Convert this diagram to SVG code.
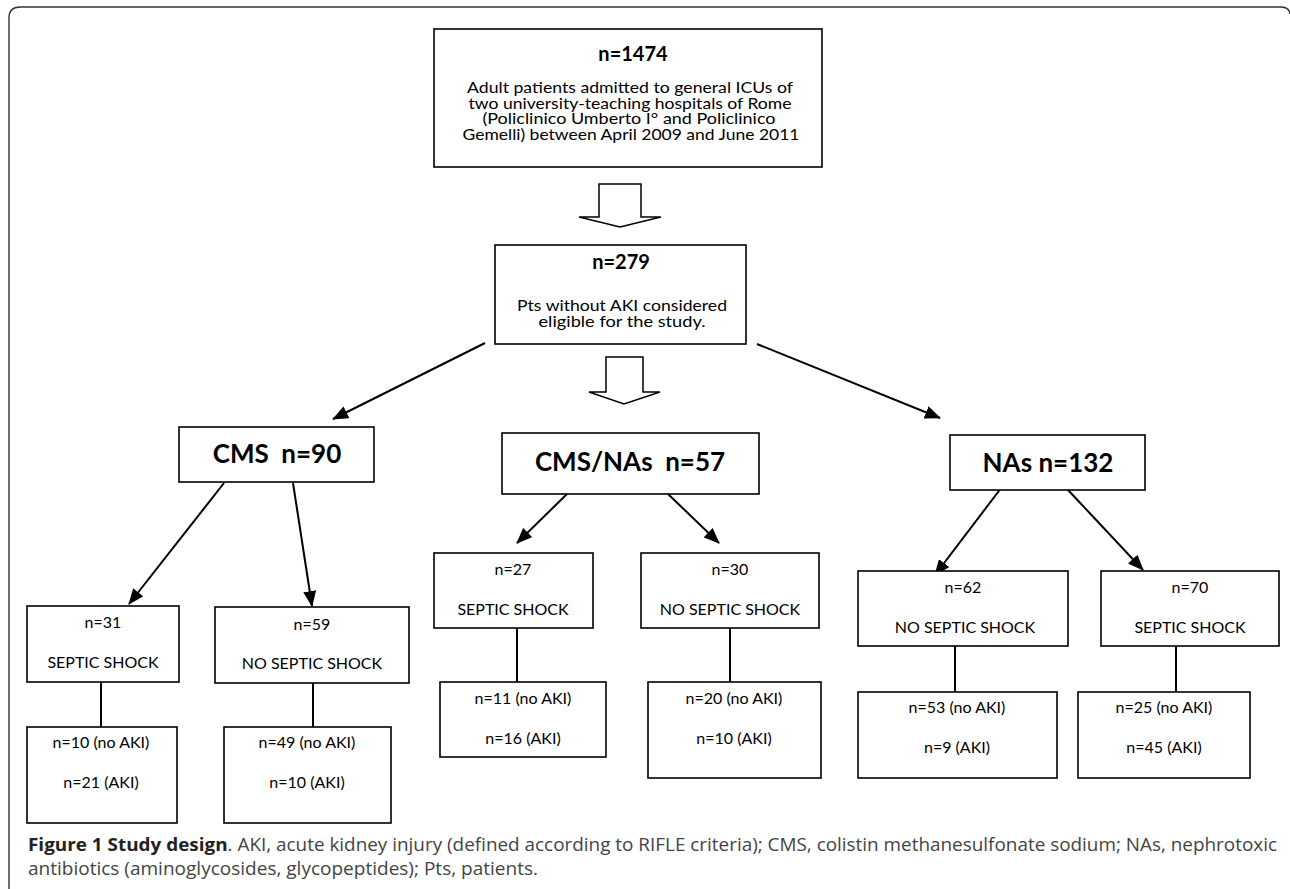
<svg xmlns="http://www.w3.org/2000/svg" width="1290" height="889" viewBox="0 0 1290 889">
<style>
.box{fill:#fff;stroke:#000;stroke-width:1.6}
.t{font-family:Lato,"Liberation Sans",sans-serif;font-size:16px;fill:#000;text-anchor:middle}
.tb{font-family:Lato,"Liberation Sans",sans-serif;font-size:20px;font-weight:bold;fill:#000;text-anchor:middle}
.big{font-family:Lato,"Liberation Sans",sans-serif;font-size:26px;font-weight:bold;fill:#000;text-anchor:middle}
.body{font-family:Lato,"Liberation Sans",sans-serif;font-size:16px;fill:#000;text-anchor:middle}
.ln{stroke:#000;stroke-width:2;fill:none}
.arr{stroke:#000;stroke-width:2;fill:none;marker-end:url(#ah)}
.hollow{fill:#fff;stroke:#000;stroke-width:1.5;stroke-linejoin:miter}
.cap{font-family:"Open Sans","Liberation Sans",sans-serif;font-size:17.5px;fill:#444}
</style>
<defs>
<marker id="ah" viewBox="0 0 16 13" refX="15" refY="6.5" markerWidth="16" markerHeight="13" orient="auto" markerUnits="userSpaceOnUse">
<path d="M0,0 L16,6.5 L0,13 z" fill="#000"/>
</marker>
</defs>
<rect width="1290" height="889" fill="#fff"/>
<path d="M9,889 V18 Q9,7 20,7 H1281 Q1289,7 1290,14" fill="none" stroke="#333" stroke-width="1.4"/>

<g id="connectors">
<polygon class="hollow" points="599,184 641,184 641,217 661,217 620,227 579,217 599,217"/>
<polygon class="hollow" points="606,357 643,357 643,392 660,392 624,404 589,392 606,392"/>
<line class="arr" x1="485" y1="343" x2="333" y2="419"/>
<line class="arr" x1="757" y1="344" x2="940" y2="418"/>
<line class="arr" x1="224" y1="483" x2="129" y2="604"/>
<line class="arr" x1="293" y1="483" x2="312" y2="606"/>
<line class="arr" x1="567" y1="494" x2="517" y2="543"/>
<line class="arr" x1="668" y1="494" x2="719" y2="543"/>
<line class="arr" x1="1011" y1="475" x2="935" y2="575"/>
<line class="arr" x1="1054" y1="475" x2="1143" y2="570"/>
<line class="ln" x1="101" y1="682" x2="101" y2="727"/>
<line class="ln" x1="313" y1="683" x2="313" y2="727"/>
<line class="ln" x1="517" y1="628" x2="517" y2="682"/>
<line class="ln" x1="730" y1="628" x2="730" y2="682"/>
<line class="ln" x1="955" y1="646" x2="955" y2="692"/>
<line class="ln" x1="1176" y1="646" x2="1176" y2="692"/>
</g>

<g id="n1474">
<rect class="box" x="434" y="29" width="388" height="138"/>
<text class="tb" x="633" y="61">n=1474</text>
<text class="body" x="630" y="93" textLength="326" lengthAdjust="spacingAndGlyphs">Adult patients admitted to general ICUs of</text>
<text class="body" x="630" y="108.5" textLength="323" lengthAdjust="spacingAndGlyphs">two university-teaching hospitals of Rome</text>
<text class="body" x="629" y="124" textLength="293" lengthAdjust="spacingAndGlyphs">(Policlinico Umberto I° and Policlinico</text>
<text class="body" x="631" y="139.5" textLength="337" lengthAdjust="spacingAndGlyphs">Gemelli) between April 2009 and June 2011</text>
</g>

<g id="n279">
<rect class="box" x="495" y="245" width="251" height="99"/>
<text class="tb" x="621" y="269">n=279</text>
<text class="body" x="622" y="311" textLength="210" lengthAdjust="spacingAndGlyphs">Pts without AKI considered</text>
<text class="body" x="622" y="327" textLength="167" lengthAdjust="spacingAndGlyphs">eligible for the study.</text>
</g>

<g id="cms">
<rect class="box" x="179" y="427" width="195" height="55"/>
<text class="big" x="277" y="463" xml:space="preserve">CMS  n=90</text>
</g>
<g id="cmsnas">
<rect class="box" x="502" y="433" width="257" height="61"/>
<text class="big" x="630" y="471" xml:space="preserve">CMS/NAs  n=57</text>
</g>
<g id="nas">
<rect class="box" x="950" y="435" width="195" height="55"/>
<text class="big" x="1048" y="472">NAs n=132</text>
</g>

<g id="n31">
<rect class="box" x="27" y="606" width="152" height="76"/>
<text class="t" x="103" y="628">n=31</text>
<text class="t" x="103" y="668">SEPTIC SHOCK</text>
</g>
<g id="n59">
<rect class="box" x="215" y="607" width="194" height="76"/>
<text class="t" x="312" y="630">n=59</text>
<text class="t" x="312" y="669">NO SEPTIC SHOCK</text>
</g>
<g id="n10">
<rect class="box" x="27" y="727" width="150" height="96"/>
<text class="t" x="101" y="748">n=10 (no AKI)</text>
<text class="t" x="101" y="788">n=21 (AKI)</text>
</g>
<g id="n49">
<rect class="box" x="224" y="727" width="167" height="96"/>
<text class="t" x="307" y="748">n=49 (no AKI)</text>
<text class="t" x="307" y="788">n=10 (AKI)</text>
</g>

<g id="n27">
<rect class="box" x="434" y="553" width="159" height="75"/>
<text class="t" x="513" y="575">n=27</text>
<text class="t" x="513" y="615">SEPTIC SHOCK</text>
</g>
<g id="n30">
<rect class="box" x="641" y="553" width="178" height="75"/>
<text class="t" x="730" y="575">n=30</text>
<text class="t" x="730" y="615">NO SEPTIC SHOCK</text>
</g>
<g id="n11">
<rect class="box" x="440" y="682" width="166" height="75"/>
<text class="t" x="523" y="704">n=11 (no AKI)</text>
<text class="t" x="523" y="744">n=16 (AKI)</text>
</g>
<g id="n20">
<rect class="box" x="648" y="682" width="173" height="96"/>
<text class="t" x="734" y="704">n=20 (no AKI)</text>
<text class="t" x="734" y="744">n=10 (AKI)</text>
</g>

<g id="n62">
<rect class="box" x="858" y="571" width="210" height="75"/>
<text class="t" x="963" y="593">n=62</text>
<text class="t" x="965" y="633">NO SEPTIC SHOCK</text>
</g>
<g id="n70">
<rect class="box" x="1101" y="571" width="178" height="75"/>
<text class="t" x="1190" y="593">n=70</text>
<text class="t" x="1190" y="633">SEPTIC SHOCK</text>
</g>
<g id="n53">
<rect class="box" x="858" y="692" width="199" height="86"/>
<text class="t" x="957" y="713">n=53 (no AKI)</text>
<text class="t" x="957" y="753">n=9 (AKI)</text>
</g>
<g id="n25">
<rect class="box" x="1078" y="692" width="172" height="86"/>
<text class="t" x="1164" y="713">n=25 (no AKI)</text>
<text class="t" x="1164" y="753">n=45 (AKI)</text>
</g>

<g id="caption">
<text class="cap" x="28" y="851" textLength="1249" lengthAdjust="spacingAndGlyphs"><tspan font-weight="bold" fill="#222">Figure 1 Study design</tspan>. AKI, acute kidney injury (defined according to RIFLE criteria); CMS, colistin methanesulfonate sodium; NAs, nephrotoxic</text>
<text class="cap" x="28" y="875" textLength="510" lengthAdjust="spacingAndGlyphs">antibiotics (aminoglycosides, glycopeptides); Pts, patients.</text>
</g>
</svg>
